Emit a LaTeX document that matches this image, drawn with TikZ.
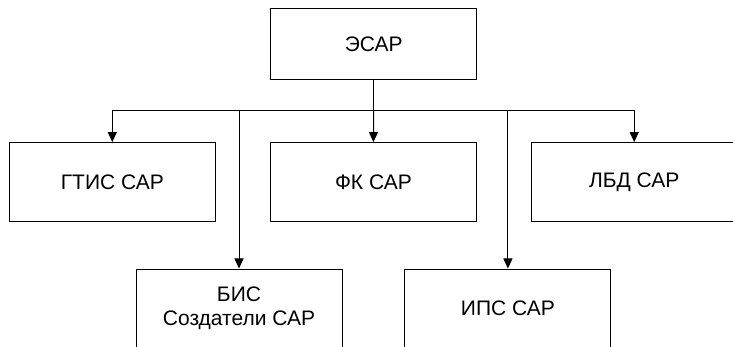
\documentclass[tikz,border=0pt]{standalone}
\usepackage{fontspec}
\setmainfont{Liberation Sans}
\usetikzlibrary{arrows.meta}

\begin{document}
\begin{tikzpicture}[
    x=1pt, y=-1pt,
    base/.style = {rectangle, draw=black, line width=1pt,
minimum width=206pt, minimum height=79pt,
text centered, font=\fontsize{21}{24}\selectfont},
unit/.style = {base, align=center},
link/.style = {line width=1pt, -{Triangle[length=10pt,width=9pt]}}
]

  \path[use as bounding box, clip] (0,0) rectangle (733,347);

  \node (esar)  [unit, minimum height=71pt] at (373.7,43.8) {ЭСАР};
  \node (gtis)  [unit] at (112.3,182.1) {ГТИС САР};
  \node (fk)    [unit] at (373.4,182.1) {ФК САР};
  \node (lbd)   [unit] at (634.2,182.1) {ЛБД САР};
  \node (bis)   [unit] at (239.0,308.5) {БИС\\Создатели САР};
  \node (ips)   [unit] at (507.9,308.5) {ИПС САР};

  \draw[line width=1pt] (esar.south) -- ++(0,31) coordinate (hub);
  \draw[link]   (hub) -| (gtis.north);
  \draw[link]   (hub) -- (fk.north);
  \draw[link]   (hub) -| (lbd.north);
  \draw[link]   (hub) -| (bis.north);
  \draw[link]   (hub) -| (ips.north);

\end{tikzpicture}
\end{document}
